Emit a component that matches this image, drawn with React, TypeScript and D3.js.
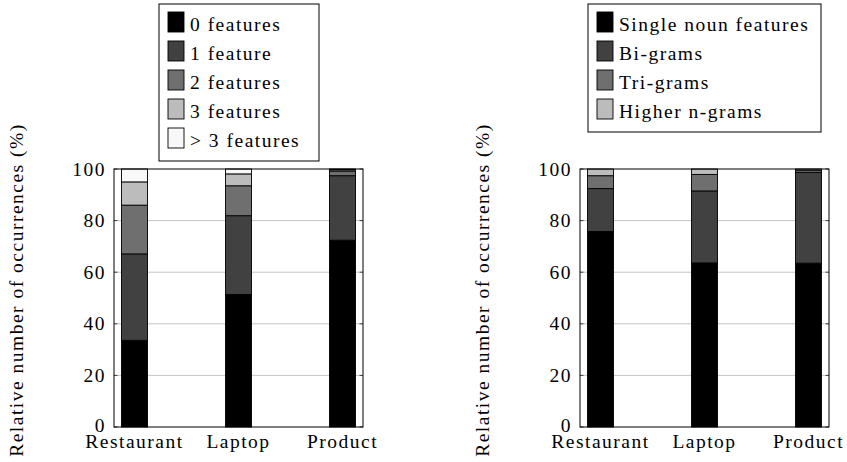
import React from "react";
import * as d3 from "d3";

const categories = ["Restaurant", "Laptop", "Product"];

const leftSeries = ["0 features", "1 feature", "2 features", "3 features", "> 3 features"];
const leftValues = [
  [33.6, 51.4, 72.4],
  [33.5, 30.5, 25.0],
  [18.9, 11.6, 1.8],
  [9.0, 4.6, 0.5],
  [5.0, 1.9, 0.3],
];
const leftColors = ["#000000", "#414141", "#6f6f6f", "#bcbcbc", "#f8f8f8"];

const rightSeries = ["Single noun features", "Bi-grams", "Tri-grams", "Higher n-grams"];
const rightValues = [
  [75.8, 63.6, 63.5],
  [16.6, 27.9, 35.2],
  [5.0, 6.4, 0.8],
  [2.6, 2.1, 0.5],
];
const rightColors = ["#000000", "#414141", "#6f6f6f", "#bcbcbc"];

const yTicks = [0, 20, 40, 60, 80, 100];
const yLabel = "Relative number of occurrences (%)";

const FONT = "'Liberation Serif', 'Times New Roman', serif";
const FS = 19.5;
const LS = 1.5;

type PanelProps = {
  left: number;
  right: number;
  series: string[];
  values: number[][];
  colors: string[];
  legend: { x0: number; x1: number; y0: number; y1: number };
};

function Panel({ left, right, series, values, colors, legend }: PanelProps) {
  const top = 169;
  const bottom = 427;
  const y = d3.scaleLinear().domain([0, 100]).range([bottom, top]);
  const x = d3
    .scalePoint<string>()
    .domain(categories)
    .range([left + 20.5, right - 20.5]);
  const barW = 26;

  const rows = categories.map((c, i) => {
    const o: any = { cat: c };
    series.forEach((s, k) => (o[s] = values[k][i]));
    return o;
  });
  const stacked = d3.stack<any>().keys(series)(rows);

  return (
    <g>
      {yTicks
        .filter((t) => t > 0 && t < 100)
        .map((t) => (
          <line key={"g" + t} x1={left} x2={right} y1={y(t)} y2={y(t)} stroke="#c4c4c4" strokeWidth={1} />
        ))}
      {yTicks.map((t) => (
        <g key={"t" + t}>
          <line x1={left} x2={left + 3.5} y1={y(t)} y2={y(t)} stroke="#444" strokeWidth={1} />
          <line x1={right - 3.5} x2={right} y1={y(t)} y2={y(t)} stroke="#444" strokeWidth={1} />
          <text
            x={left - 8}
            y={y(t)}
            dy={t === 0 ? "0.28em" : "0.34em"}
            textAnchor="end"
            fontFamily={FONT}
            fontSize={FS}
            letterSpacing={LS}
          >
            {t}
          </text>
        </g>
      ))}
      {stacked.map((layer, k) =>
        layer.map((d, i) => (
          <rect
            key={k + "-" + i}
            x={(x(categories[i]) as number) - barW / 2}
            y={y(d[1])}
            width={barW}
            height={Math.max(0, y(d[0]) - y(d[1]))}
            fill={colors[k]}
            stroke="#000"
            strokeWidth={0.9}
          />
        ))
      )}
      <rect x={left} y={top} width={right - left} height={bottom - top} fill="none" stroke="#000" strokeWidth={1} />
      {categories.map((c) => (
        <text
          key={c}
          x={x(c) as number}
          y={448}
          textAnchor="middle"
          fontFamily={FONT}
          fontSize={FS}
          letterSpacing={LS}
        >
          {c}
        </text>
      ))}
      <text
        transform={`translate(${left - 91},290) rotate(-90)`}
        textAnchor="middle"
        fontFamily={FONT}
        fontSize={FS}
        letterSpacing={LS}
      >
        {yLabel}
      </text>
      <rect
        x={legend.x0}
        y={legend.y0}
        width={legend.x1 - legend.x0}
        height={legend.y1 - legend.y0}
        fill="#fff"
        stroke="#000"
        strokeWidth={1}
      />
      {series.map((s, k) => (
        <g key={s}>
          <rect
            x={legend.x0 + 9}
            y={legend.y0 + 8 + k * 29}
            width={16}
            height={20}
            fill={colors[k]}
            stroke="#000"
            strokeWidth={0.9}
          />
          <text
            x={legend.x0 + 31}
            y={legend.y0 + 27 + k * 29}
            fontFamily={FONT}
            fontSize={FS}
            letterSpacing={LS}
          >
            {s}
          </text>
        </g>
      ))}
    </g>
  );
}

export default function App() {
  React.useEffect(() => {
    document.body.style.margin = "0";
  }, []);
  return (
    <svg width={847} height={462} style={{ display: "block", background: "#fff" }}>
      <Panel
        left={114}
        right={363}
        series={leftSeries}
        values={leftValues}
        colors={leftColors}
        legend={{ x0: 159, x1: 319, y0: 4, y1: 161 }}
      />
      <Panel
        left={580}
        right={829}
        series={rightSeries}
        values={rightValues}
        colors={rightColors}
        legend={{ x0: 588, x1: 821, y0: 4, y1: 132 }}
      />
    </svg>
  );
}
